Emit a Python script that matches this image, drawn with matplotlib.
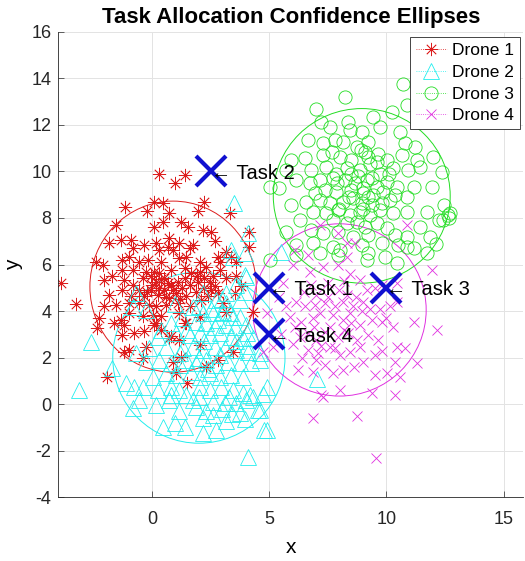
import numpy as np
import matplotlib
matplotlib.use("Agg")
import matplotlib.pyplot as plt
from matplotlib.patches import Ellipse
from matplotlib.lines import Line2D

plt.rcParams["font.family"] = ["Liberation Sans", "DejaVu Sans"]
plt.rcParams["axes.unicode_minus"] = False

# 各无人机的散点 (x, y)
drone1 = np.array([
    [-1.15, 8.49], [0.1, 8.7], [0.46, 8.66], [-0.23, 8.31], [0.74, 8.2], [2.24, 8.7], [1.96, 8.31],
    [3.31, 8.2], [-1.54, 7.7], [0.46, 7.84], [0.1, 7.63], [1.24, 7.84], [1.53, 7.63], [2.17, 7.49],
    [2.53, 7.41], [-1.83, 6.91], [-1.33, 7.06], [-0.9, 7.06], [-0.33, 6.84], [0.17, 6.91], [0.71, 7.13],
    [1.17, 6.91], [1.74, 6.84], [1.6, 6.7], [2.67, 6.99], [-0.83, 6.7], [0.31, 6.63], [0.67, 6.77],
    [0.89, 6.63], [3.17, 6.56], [2.81, 6.34], [-2.4, 6.13], [-2.11, 5.99], [-0.97, 6.34], [-1.26, 6.2],
    [-0.54, 6.13], [-0.19, 6.2], [0.39, 6.13], [1.17, 6.27], [1.46, 6.34], [2.03, 6.13], [2.31, 5.91],
    [2.89, 6.13], [3.39, 6.34], [3.6, 6.13], [-1.26, 5.77], [-0.83, 5.77], [-0.26, 5.7], [0.1, 5.7],
    [0.31, 5.63], [0.81, 5.77], [1.39, 5.84], [1.67, 5.63], [2.03, 5.7], [2.89, 5.77], [-2.04, 5.34],
    [-1.69, 5.49], [-1.19, 5.34], [-0.83, 5.13], [-0.4, 5.41], [-0.04, 5.49], [0.17, 5.27], [0.53, 5.41],
    [0.81, 5.13], [1.1, 5.27], [1.39, 5.41], [1.6, 5.13], [1.96, 5.27], [2.24, 5.41], [2.46, 5.27],
    [2.67, 5.06], [3.17, 5.41], [3.6, 5.49], [-1.83, 4.7], [-1.26, 4.91], [-0.9, 4.63], [-0.54, 4.91],
    [-0.33, 4.63], [-0.04, 4.91], [0.24, 4.7], [0.53, 4.91], [0.74, 4.56], [1.03, 4.77], [1.46, 4.63],
    [1.89, 4.84], [2.1, 4.49], [2.39, 4.63], [2.81, 4.77], [3.81, 5.06], [-2.04, 4.2], [-1.54, 4.27],
    [-0.97, 4.34], [-0.54, 4.34], [-0.11, 4.27], [0.17, 4.2], [0.6, 4.27], [1.1, 4.34], [1.6, 4.2],
    [3.03, 4.34], [-0.97, 3.91], [-0.4, 3.77], [0.03, 3.84], [0.39, 3.77], [1.17, 3.91], [-2.26, 3.7],
    [-1.61, 3.49], [-1.33, 3.63], [0.17, 3.49], [1.46, 3.49], [-2.33, 3.27], [-1.26, 2.99], [-0.76, 3.06],
    [-0.33, 3.13], [0.39, 3.2], [0.81, 2.91], [-1.19, 3.4], [0.1, 3.4], [1.39, 3.47], [2.03, 3.76],
    [3.17, 3.97], [3.53, 4.76], [4.31, 3.97], [0.74, 2.83], [1.17, 2.76], [2.03, 2.54], [-0.97, 2.33],
    [-0.26, 2.47], [-0.4, 1.97], [-1.19, 2.26], [1.24, 2.04], [0.89, 1.83], [2.81, 1.9], [3.46, 2.26],
    [1.03, 1.33], [2.31, 1.61], [1.5, 0.93], [-1.9, 1.18], [-3.9, 5.22], [-3.25, 4.29], [0.31, 9.89],
    [1.0, 9.52], [1.42, 9.84], [4.16, 7.41], [4.16, 6.77], [0.3, 5.0], [0.6, 4.6], [0.0, 5.1],
    [0.9, 4.9], [1.3, 5.0], [0.4, 5.4], [-0.2, 4.8], [1.9, 5.5], [2.2, 5.0], [2.5, 4.9], [2.6, 5.5],
    [1.2, 4.5], [0.7, 5.2],
])

drone2 = np.array([
    [3.52, 8.63], [4.1, 7.34], [3.96, 6.49], [3.46, 6.34], [3.96, 5.56], [3.6, 5.13], [3.38, 6.62],
    [4.02, 5.48], [3.95, 4.84], [3.17, 4.76], [2.17, 4.76], [2.74, 4.48], [3.17, 4.33], [3.74, 4.48],
    [3.31, 3.91], [1.74, 4.19], [-0.68, 4.76], [-0.83, 4.19], [-0.26, 4.05], [5.5, 6.55], [4.04, 3.06],
    [4.04, 2.49], [4.6, 1.9], [4.3, 0.32], [4.73, 0.46], [4.6, -0.26], [7.05, 1.07], [4.8, -1.11],
    [4.09, -2.25], [-1.69, 1.55], [-1.11, 0.9], [-0.76, 0.76], [-0.4, 0.76], [0.24, 0.61], [-0.83, -0.17],
    [-0.54, 0.19], [0.17, -0.03], [0.74, 0.19], [1.17, -0.31], [0.46, -0.96], [0.96, -0.81], [1.39, -0.96],
    [2.17, -1.24], [2.74, -1.1], [3.17, -0.74], [3.74, -0.39], [4.53, -0.24], [4.89, -1.1], [4.89, 0.76],
    [4.17, 0.4], [1.46, 0.4], [1.89, -0.1], [2.31, -0.31], [2.17, -0.6], [2.6, -0.45], [3.4, -0.4],
    [3.96, -0.65], [2.17, 3.9], [2.6, 3.9], [3.03, 3.97], [3.46, 3.76], [3.74, 3.76], [0.81, 3.47],
    [1.89, 3.54], [2.31, 3.47], [2.67, 3.33], [3.17, 3.4], [3.53, 3.33], [4.03, 3.4], [0.24, 2.9],
    [1.03, 3.04], [1.6, 2.97], [2.03, 3.04], [2.46, 2.97], [2.89, 3.04], [3.39, 2.9], [3.89, 2.83],
    [4.31, 2.83], [-0.69, 2.19], [-0.11, 2.4], [0.6, 2.47], [1.31, 2.4], [1.74, 2.47], [2.17, 2.33],
    [2.67, 2.47], [3.1, 2.4], [3.6, 2.33], [4.1, 2.26], [4.6, 2.19], [-0.26, 1.83], [0.31, 1.9],
    [0.81, 1.76], [1.46, 1.9], [1.89, 1.76], [2.31, 1.9], [2.74, 1.69], [3.24, 1.83], [3.74, 1.76],
    [4.24, 1.76], [0.03, 1.19], [0.6, 1.33], [1.03, 1.26], [1.67, 1.4], [2.03, 1.19], [2.46, 1.33],
    [2.89, 1.19], [3.39, 1.26], [3.89, 1.19], [0.81, 0.76], [1.17, 0.61], [2.03, 0.76], [2.46, 0.61],
    [2.96, 0.76], [3.46, 0.61], [3.89, 0.47], [0.81, 0.4], [1.74, 0.19], [2.6, 0.11], [3.1, 0.04],
    [3.6, 0.04], [4.03, 0.19], [-2.61, 2.68], [-3.11, 0.61], [1.3, 3.7], [2.0, 4.2], [2.5, 4.1],
    [1.0, 4.3], [3.0, 4.5], [2.8, 3.6], [1.5, 3.2], [2.2, 2.7], [1.2, 2.2], [2.9, 2.1], [0.4, 3.2],
    [3.6, 2.7], [2.4, 1.5], [1.2, 1.7], [2.0, 0.3], [3.3, 0.3], [3.0, -0.2], [2.0, 2.0],
])

drone3 = np.array([
    [10.73, 13.77], [8.23, 13.2], [7.01, 12.7], [9.44, 12.34], [10.23, 12.56], [10.87, 12.84],
    [7.23, 12.13], [7.59, 11.91], [8.37, 12.13], [8.44, 11.77], [8.94, 11.7], [9.73, 11.91],
    [10.59, 11.7], [6.66, 11.37], [7.3, 11.2], [7.8, 11.34], [8.16, 11.27], [8.73, 11.06], [9.23, 11.27],
    [10.8, 11.2], [11.23, 11.06], [5.94, 10.49], [6.51, 10.56], [7.3, 10.7], [7.66, 10.84], [8.01, 10.63],
    [8.51, 10.49], [9.09, 10.84], [9.66, 10.77], [10.01, 10.49], [10.66, 10.7], [11.3, 10.49],
    [12.01, 10.63], [5.73, 10.06], [6.8, 10.06], [7.44, 10.2], [7.87, 9.91], [8.3, 10.13], [8.87, 10.06],
    [9.3, 10.34], [9.73, 9.91], [10.3, 10.13], [10.94, 10.06], [11.44, 10.2], [12.37, 9.99], [6.16, 9.63],
    [6.73, 9.49], [7.16, 9.63], [7.73, 9.7], [8.23, 9.63], [8.66, 9.49], [9.16, 9.63], [9.59, 9.34],
    [10.01, 9.56], [10.44, 9.34], [11.16, 9.34], [11.94, 9.34], [5.44, 9.27], [6.94, 9.06], [7.37, 9.2],
    [7.87, 9.13], [8.51, 9.2], [9.01, 9.06], [9.44, 8.99], [9.87, 9.13], [10.37, 8.99], [10.87, 8.91],
    [6.59, 8.7], [7.16, 8.77], [7.59, 8.63], [8.16, 8.7], [8.59, 8.84], [8.94, 8.63], [9.37, 8.56],
    [9.8, 8.63], [10.16, 8.77], [5.94, 8.56], [12.44, 8.56], [6.87, 8.27], [7.44, 8.2], [7.94, 8.34],
    [8.44, 8.13], [8.87, 8.27], [9.3, 8.13], [9.73, 8.34], [10.3, 8.2], [10.87, 8.27], [11.73, 8.27],
    [12.73, 8.2], [12.66, 7.99], [6.3, 7.91], [7.73, 7.91], [8.3, 7.77], [8.73, 7.84], [9.09, 7.63],
    [9.59, 7.77], [10.01, 7.56], [11.44, 7.63], [12.23, 7.91], [5.73, 7.41], [6.8, 7.49], [7.3, 7.34],
    [7.94, 7.41], [8.59, 7.2], [9.23, 7.27], [10.37, 7.27], [10.87, 7.2], [11.87, 7.2], [6.16, 6.84],
    [6.87, 6.91], [7.73, 6.77], [8.94, 6.84], [9.8, 6.91], [10.51, 6.84], [11.16, 6.7], [7.16, 6.49],
    [7.94, 6.41], [9.23, 6.49], [9.94, 6.34], [11.73, 6.49], [12.65, 8.13], [5.02, 9.35], [6.16, 6.41],
    [5.02, 6.19], [10.87, 6.77], [12.1, 6.9], [9.16, 6.19], [10.44, 6.05], [8.01, 6.62], [12.43, 7.9],
    [8.8, 9.8], [9.0, 9.3], [9.4, 9.7], [8.5, 9.9], [9.2, 10.6], [8.9, 10.9], [9.6, 10.4], [8.4, 8.9],
    [9.2, 8.9], [7.9, 9.5], [10.1, 9.9], [9.0, 8.4], [8.0, 8.4],
])

drone4 = np.array([
    [11.94, 5.76], [6.01, 5.99], [6.73, 5.7], [7.3, 5.9], [7.94, 5.97], [8.44, 5.61], [8.87, 5.33],
    [5.59, 5.19], [9.16, 4.9], [9.8, 5.11], [10.44, 5.19], [5.73, 4.21], [6.16, 4.41], [6.51, 4.21],
    [6.94, 4.27], [7.37, 4.34], [7.8, 4.21], [8.16, 4.41], [8.59, 4.21], [8.94, 3.99], [9.3, 4.1],
    [9.73, 4.11], [10.16, 4.21], [10.44, 4.41], [5.87, 3.76], [6.37, 3.54], [6.87, 3.69], [7.16, 3.9],
    [7.73, 3.83], [8.16, 3.61], [8.44, 3.9], [8.87, 3.4], [9.37, 3.61], [9.8, 3.54], [10.3, 3.33],
    [11.16, 3.54], [12.16, 3.19], [6.66, 3.04], [7.01, 2.76], [7.37, 3.11], [7.94, 2.9], [8.37, 3.04],
    [8.73, 2.76], [9.23, 2.97], [9.66, 2.76], [10.44, 2.47], [10.8, 2.4], [6.66, 2.33], [7.09, 2.19],
    [7.59, 2.47], [8.01, 2.11], [8.44, 2.26], [8.87, 2.47], [9.51, 2.11], [10.37, 1.83], [6.23, 1.47],
    [6.87, 1.4], [7.37, 1.69], [7.73, 1.33], [8.16, 1.47], [9.51, 1.26], [10.01, 1.33], [10.59, 1.19],
    [11.3, 1.76], [7.23, 0.4], [8.01, 0.61], [9.37, 0.47], [10.37, 0.4], [6.87, -0.6], [8.73, -0.5],
    [9.58, -2.33], [7.3, 0.32], [7.16, 7.7], [7.94, 7.34], [8.3, 6.91], [8.66, 6.91], [10.87, 7.7],
    [6.09, 6.63], [6.66, 6.41], [8.3, 6.34], [4.89, 3.9], [5.17, 2.47], [4.74, 2.26], [7.0, 4.7],
    [7.5, 4.6], [8.0, 4.9], [8.3, 4.7], [8.7, 4.6], [6.5, 4.8], [7.6, 3.3], [8.2, 3.2], [6.3, 2.9],
    [6.9, 3.3], [8.5, 3.5], [9.0, 4.4], [7.2, 2.5], [7.8, 2.4], [6.0, 2.6], [6.4, 2.0], [9.0, 1.8],
    [8.6, 1.6], [9.8, 2.3], [7.0, 1.9], [6.1, 3.3], [5.5, 3.0], [5.4, 4.6], [9.5, 5.0], [8.2, 5.3],
    [7.5, 5.2], [6.8, 5.1], [10.0, 3.7],
])

# 置信椭圆: 中心, 宽, 高
ell_centers = [(0.9, 5.05), (2.0, 2.0), (8.95, 8.95), (8.0, 4.05)]
ell_widths = [7.1, 7.35, 7.55, 7.4]
ell_heights = [7.35, 7.35, 7.5, 7.4]

# 任务位置
task_x = [5, 2.5, 10, 5]
task_y = [5, 10, 5, 3]
task_names = ["Task 1", "Task 2", "Task 3", "Task 4"]

labels = ["Drone 1", "Drone 2", "Drone 3", "Drone 4"]
colors = ["#dd1c1c", "#22eeee", "#22dd22", "#e030e0"]
markers = [(8, 2, 0), "^", "o", "x"]
msizes = [9.5, 11, 9.5, 7]
mlw = [0.55, 0.6, 0.6, 0.6]

fig = plt.figure(figsize=(5.25, 5.61), dpi=100)
ax = fig.add_axes([0.111, 0.1135, 0.886, 0.8299])

ax.grid(True, color="#e3e3e3", linewidth=0.7)
ax.set_axisbelow(True)

drones = [drone1, drone2, drone3, drone4]
handles = []
for i, pts in enumerate(drones):
    ax.plot(pts[:, 0], pts[:, 1], linestyle="none", marker=markers[i], markersize=msizes[i],
            markerfacecolor="none", markeredgecolor=colors[i], markeredgewidth=mlw[i])
    e = Ellipse(ell_centers[i], ell_widths[i], ell_heights[i], fill=False,
                edgecolor=colors[i], linewidth=0.7)
    ax.add_patch(e)
    handles.append(Line2D([], [], linestyle=":", color=colors[i], linewidth=0.6,
                          marker=markers[i], markersize=msizes[i], markerfacecolor="none",
                          markeredgecolor=colors[i], markeredgewidth=mlw[i]))

ax.plot(task_x, task_y, linestyle="none", marker="x", markersize=22, markeredgewidth=3,
        color="#1010d0", zorder=5)
for tx, ty, name in zip(task_x, task_y, task_names):
    ax.text(tx, ty, "\u2190 " + name, fontsize=14.5, ha="left", va="center_baseline",
            family=["Liberation Sans", "DejaVu Sans"], zorder=6)

ax.set_xlim(-4, 15.85)
ax.set_ylim(-4, 16)
ax.set_xticks([0, 5, 10, 15])
ax.set_yticks(np.arange(-4, 17, 2))
ax.tick_params(direction="in", labelsize=13, length=4, width=0.5, colors="#262626")
ax.tick_params(axis="x", pad=10)
ax.tick_params(axis="y", pad=5)
for s in ax.spines.values():
    s.set_color("#262626")
    s.set_linewidth(0.6)
ax.spines["top"].set_visible(False)
ax.spines["right"].set_visible(False)

ax.set_xlabel("x", fontsize=15, labelpad=7)
ax.set_ylabel("y", fontsize=15, labelpad=6)
ax.set_title("Task Allocation Confidence Ellipses", fontsize=16, fontweight="bold", pad=6)

leg = ax.legend(handles, labels, loc="upper right", bbox_to_anchor=(0.993, 0.989),
                borderaxespad=0, fontsize=12.5, fancybox=False, framealpha=1,
                handlelength=1.8, handletextpad=0.3, borderpad=0.35, labelspacing=0.38)
leg.get_frame().set_edgecolor("#262626")
leg.get_frame().set_linewidth(0.6)

fig.savefig("out.png", dpi=100)
